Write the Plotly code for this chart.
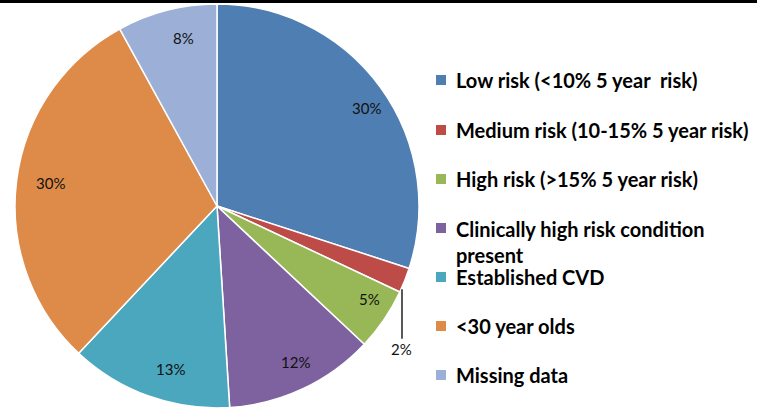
import math
import plotly.graph_objects as go

labels = [
    "Low risk (<10% 5 year  risk)",
    "Medium risk (10-15% 5 year risk)",
    "High risk (>15% 5 year risk)",
    "Clinically high risk condition<br>present",
    "Established CVD",
    "<30 year olds",
    "Missing data",
]
values = [30, 2, 5, 12, 13, 30, 8]
colors = ["#4F7EB2", "#BD4B48", "#98B857", "#7E62A0", "#4AA7BE", "#DE8B49", "#9CB0D7"]

W, H = 757, 409
cx, cy, R = 217, 206, 202  # pie centre / radius in pixels


def px(x):
    return x / W


def py(y):
    return 1 - y / H


fig = go.Figure(go.Pie(
    labels=labels,
    values=values,
    sort=False,
    direction="clockwise",
    rotation=0,
    marker=dict(colors=colors, line=dict(color="white", width=1.5)),
    textinfo="none",
    hoverinfo="label+percent",
    showlegend=False,
    domain=dict(x=[px(cx - R), px(cx + R)], y=[py(cy + R), py(cy - R)]),
))

# percentage labels placed along each slice's mid angle
total = sum(values)
cum = 0
annotations = []
lbl_font = dict(family="Lato", size=15, color="#111")
for v in values:
    mid = (cum + v / 2) / total * 2 * math.pi
    cum += v
    txt = f"{round(v / total * 100)}%"
    if v / total < 0.03:
        # small slice: label below with a leader line
        ex = cx + R * 0.985 * math.sin(mid)
        ey = cy - R * 0.985 * math.cos(mid) + 10
        annotations.append(dict(
            x=px(ex), y=py(ey), xref="paper", yref="paper", text=txt,
            showarrow=True, arrowhead=0, arrowwidth=1.3, arrowcolor="black",
            ax=0, ay=60, font=lbl_font,
        ))
    else:
        r = R * 0.915
        annotations.append(dict(
            x=px(cx + r * math.sin(mid)), y=py(cy - r * math.cos(mid)),
            xref="paper", yref="paper", text=txt, showarrow=False,
            font=lbl_font,
        ))

# legend built by hand to match the spacing of the original
legend_y = [80, 130, 179, 228, 277, 326, 375]
shapes = [dict(type="rect", xref="paper", yref="paper", x0=0, x1=1,
               y0=py(3), y1=1, fillcolor="black", line=dict(width=0))]
for lab, col, ly in zip(labels, colors, legend_y):
    shapes.append(dict(type="rect", xref="paper", yref="paper",
                       x0=px(436), x1=px(446), y0=py(ly + 5), y1=py(ly - 5),
                       fillcolor=col, line=dict(width=0)))
    annotations.append(dict(
        x=px(454), y=py(ly), xref="paper", yref="paper", text=f"<b>{lab}</b>",
        showarrow=False, xanchor="left",
        yanchor="top" if "<br>" in lab else "middle",
        yshift=13 if "<br>" in lab else 0,
        align="left", font=dict(family="Lato", size=20, color="black"),
    ))

fig.update_layout(
    width=W, height=H,
    margin=dict(l=0, r=0, t=0, b=0),
    paper_bgcolor="white",
    annotations=annotations,
    shapes=shapes,
)

fig.write_html("out.html", config={"displayModeBar": False},
               post_script="document.body.style.margin='0';")
